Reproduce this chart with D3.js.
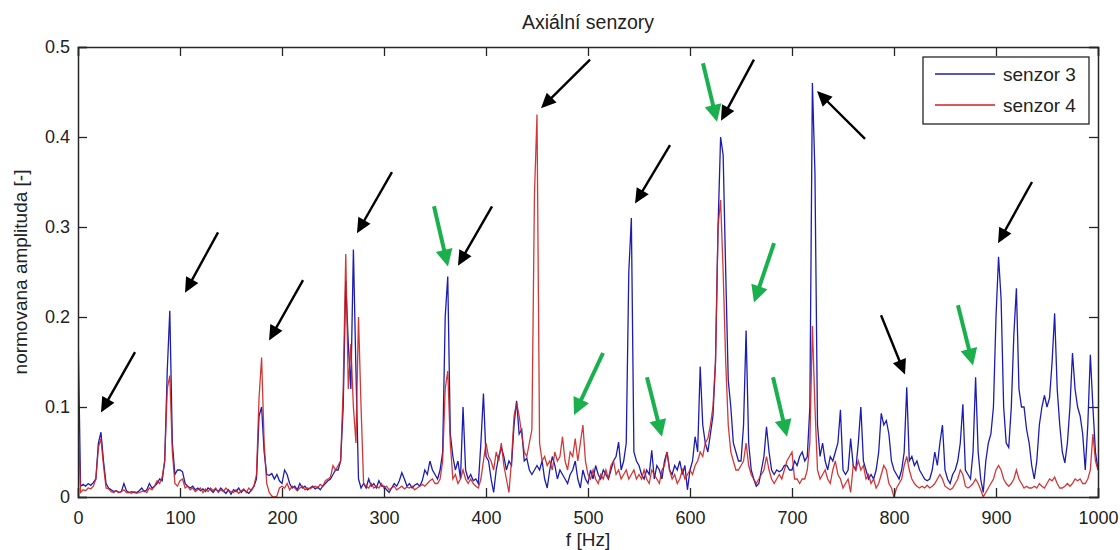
<!DOCTYPE html>
<html>
<head>
<meta charset="utf-8">
<script src="https://cdn.jsdelivr.net/npm/d3@7"></script>
<style>
  body { margin: 0; background: #fff; }
  text { font-family: "Liberation Sans", Arial, sans-serif; fill: #222; }
</style>
</head>
<body>
<div id="container"></div>
<script>
/* CONSTANTS AND GLOBALS */
const width = 1120,
  height = 550,
  margin = {top: 47, bottom: 53, left: 78, right: 22};

/* DATA */
// spectra sampled every 2.5 Hz, one row = 50 Hz
const freqStep = 2.5;
const xTicks = [0, 100, 200, 300, 400, 500, 600, 700, 800, 900, 1000];
const yTicks = [0, 0.1, 0.2, 0.3, 0.4, 0.5];
const seriesNames = ["senzor 3", "senzor 4"];

const senzor3 = [
  0.19, 0.012, 0.014, 0.012, 0.015, 0.013, 0.016, 0.02, 0.06, 0.072, 0.04, 0.015, 0.01, 0.008, 0.006, 0.007, 0.005, 0.006, 0.015, 0.007,
  0.005, 0.006, 0.005, 0.005, 0.007, 0.01, 0.006, 0.008, 0.015, 0.01, 0.012, 0.015, 0.02, 0.018, 0.04, 0.14, 0.207, 0.06, 0.025, 0.03,
  0.03, 0.028, 0.015, 0.012, 0.01, 0.012, 0.008, 0.01, 0.007, 0.009, 0.006, 0.01, 0.008, 0.005, 0.009, 0.006, 0.01, 0.007, 0.004, 0.008,
  0.003, 0.008, 0.006, 0.01, 0.005, 0.008, 0.006, 0.004, 0.008, 0.012, 0.02, 0.09, 0.1, 0.05, 0.025, 0.024, 0.026, 0.02, 0.025, 0.018,
  0.015, 0.03, 0.025, 0.015, 0.01, 0.012, 0.008, 0.015, 0.01, 0.012, 0.008, 0.01, 0.012, 0.009, 0.011, 0.008, 0.012, 0.015, 0.018, 0.02,
  0.025, 0.03, 0.03, 0.04, 0.1, 0.24, 0.17, 0.12, 0.275, 0.14, 0.02, 0.01, 0.015, 0.01, 0.02, 0.012, 0.015, 0.01, 0.018, 0.012,
  0.012, 0.008, 0.005, 0.01, 0.015, 0.012, 0.018, 0.027, 0.02, 0.012, 0.015, 0.01, 0.013, 0.015, 0.012, 0.018, 0.03, 0.025, 0.04, 0.03,
  0.025, 0.02, 0.03, 0.05, 0.2, 0.245, 0.07, 0.045, 0.03, 0.04, 0.02, 0.1, 0.03, 0.02, 0.025, 0.018, 0.02, 0.015, 0.06, 0.115,
  0.045, 0.04, 0.02, 0.005, 0.03, 0.045, 0.055, 0.045, 0.03, 0.04, 0.035, 0.08, 0.107, 0.07, 0.075, 0.04, 0.043, 0.03, 0.025, 0.03,
  0.035, 0.03, 0.04, 0.02, 0.01, 0.03, 0.045, 0.035, 0.02, 0.03, 0.025, 0.02, 0.015, 0.025, 0.03, 0.04, 0.02, 0.01, 0.03, 0.02,
  0.015, 0.03, 0.02, 0.035, 0.025, 0.02, 0.03, 0.025, 0.02, 0.03, 0.04, 0.045, 0.061, 0.03, 0.04, 0.06, 0.25, 0.31, 0.05, 0.04,
  0.035, 0.025, 0.02, 0.03, 0.025, 0.052, 0.02, 0.035, 0.03, 0.02, 0.04, 0.05, 0.03, 0.025, 0.035, 0.03, 0.04, 0.025, 0.035, 0.008,
  0.03, 0.04, 0.067, 0.05, 0.145, 0.08, 0.06, 0.05, 0.07, 0.09, 0.15, 0.3, 0.4, 0.38, 0.25, 0.13, 0.1, 0.06, 0.05, 0.04,
  0.04, 0.08, 0.185, 0.06, 0.03, 0.02, 0.012, 0.015, 0.03, 0.045, 0.078, 0.05, 0.03, 0.025, 0.03, 0.028, 0.03, 0.035, 0.035, 0.03,
  0.03, 0.04, 0.035, 0.045, 0.05, 0.04, 0.045, 0.1, 0.46, 0.36, 0.08, 0.045, 0.06, 0.04, 0.03, 0.045, 0.04, 0.05, 0.06, 0.097,
  0.03, 0.025, 0.03, 0.065, 0.035, 0.03, 0.06, 0.1, 0.04, 0.03, 0.02, 0.025, 0.02, 0.03, 0.05, 0.093, 0.08, 0.085, 0.07, 0.04,
  0.03, 0.025, 0.02, 0.03, 0.05, 0.122, 0.04, 0.045, 0.035, 0.04, 0.03, 0.025, 0.02, 0.018, 0.02, 0.03, 0.05, 0.035, 0.06, 0.08,
  0.03, 0.02, 0.015, 0.025, 0.03, 0.04, 0.06, 0.103, 0.03, 0.025, 0.02, 0.05, 0.133, 0.05, 0.02, 0.005, 0.04, 0.06, 0.07, 0.1,
  0.2, 0.267, 0.22, 0.1, 0.06, 0.055, 0.1, 0.18, 0.232, 0.12, 0.1, 0.1, 0.075, 0.06, 0.035, 0.02, 0.04, 0.08, 0.1, 0.113,
  0.1, 0.11, 0.15, 0.204, 0.12, 0.08, 0.05, 0.038, 0.06, 0.1, 0.16, 0.12, 0.1, 0.09, 0.07, 0.03, 0.08, 0.158, 0.1, 0.05,
  0.03
];

const senzor4 = [
  0.095, 0.005, 0.008, 0.007, 0.01, 0.009, 0.012, 0.02, 0.055, 0.065, 0.035, 0.01, 0.009, 0.006, 0.005, 0.007, 0.005, 0.006, 0.008, 0.005,
  0.005, 0.004, 0.006, 0.004, 0.005, 0.006, 0.007, 0.005, 0.01, 0.008, 0.012, 0.018, 0.015, 0.022, 0.04, 0.12, 0.135, 0.05, 0.015, 0.012,
  0.018, 0.02, 0.01, 0.012, 0.008, 0.01, 0.006, 0.008, 0.01, 0.005, 0.009, 0.006, 0.01, 0.007, 0.01, 0.005, 0.008, 0.006, 0.01, 0.007,
  0.006, 0.005, 0.008, 0.004, 0.007, 0.009, 0.005, 0.01, 0.007, 0.012, 0.025, 0.11, 0.155, 0.06, 0.015, 0.005, 0.001, 0.0, 0.001, 0.01,
  0.012, 0.01, 0.015, 0.008, 0.012, 0.01, 0.007, 0.01, 0.012, 0.008, 0.01, 0.009, 0.011, 0.012, 0.01, 0.014, 0.012, 0.018, 0.02, 0.022,
  0.035, 0.03, 0.035, 0.04, 0.12, 0.27, 0.12, 0.17, 0.1, 0.06, 0.2, 0.1, 0.015, 0.012, 0.01, 0.015, 0.01, 0.012, 0.01, 0.015,
  0.01, 0.012, 0.008, 0.01, 0.012, 0.008, 0.01, 0.012, 0.009, 0.011, 0.01, 0.012, 0.008, 0.01, 0.012, 0.014, 0.012, 0.015, 0.018, 0.02,
  0.015, 0.015, 0.02, 0.04, 0.12, 0.14, 0.06, 0.02, 0.025, 0.015, 0.02, 0.03, 0.02, 0.015, 0.02, 0.015, 0.012, 0.01, 0.02, 0.04,
  0.06, 0.045, 0.04, 0.03, 0.05, 0.04, 0.06, 0.035, 0.02, 0.005, 0.04, 0.09, 0.105, 0.09, 0.07, 0.05, 0.045, 0.06, 0.075, 0.335,
  0.425, 0.06, 0.04, 0.045, 0.035, 0.04, 0.03, 0.05, 0.04, 0.045, 0.067, 0.04, 0.03, 0.05, 0.045, 0.065, 0.04, 0.06, 0.08, 0.04,
  0.025, 0.02, 0.03, 0.02, 0.015, 0.025, 0.02, 0.03, 0.02, 0.035, 0.04, 0.025, 0.03, 0.02, 0.025, 0.03, 0.02, 0.025, 0.03, 0.02,
  0.025, 0.02, 0.03, 0.02, 0.015, 0.03, 0.025, 0.02, 0.015, 0.03, 0.035, 0.05, 0.03, 0.02, 0.025, 0.015, 0.02, 0.03, 0.02, 0.025,
  0.03, 0.025, 0.035, 0.04, 0.05, 0.045, 0.06, 0.065, 0.08, 0.1, 0.15, 0.3, 0.33, 0.25, 0.15, 0.08, 0.05, 0.04, 0.03, 0.03,
  0.035, 0.04, 0.06, 0.035, 0.025, 0.02, 0.015, 0.02, 0.025, 0.03, 0.045, 0.03, 0.02, 0.015, 0.02, 0.025, 0.02, 0.03, 0.04, 0.045,
  0.05, 0.02, 0.02, 0.015, 0.02, 0.02, 0.03, 0.06, 0.19, 0.1, 0.03, 0.02, 0.025, 0.03, 0.02, 0.015, 0.03, 0.04, 0.025, 0.02,
  0.01, 0.015, 0.02, 0.005, 0.035, 0.03, 0.04, 0.03, 0.035, 0.02, 0.025, 0.015, 0.02, 0.01, 0.015, 0.025, 0.035, 0.03, 0.015, 0.01,
  0.0, 0.01, 0.015, 0.02, 0.035, 0.045, 0.03, 0.02, 0.015, 0.012, 0.01, 0.012, 0.01, 0.013, 0.01, 0.012, 0.015, 0.02, 0.025, 0.02,
  0.012, 0.01, 0.008, 0.01, 0.015, 0.02, 0.03, 0.025, 0.012, 0.01, 0.012, 0.015, 0.02, 0.015, 0.008, 0.0, 0.005, 0.01, 0.015, 0.02,
  0.03, 0.035, 0.03, 0.02, 0.015, 0.012, 0.015, 0.02, 0.03, 0.02, 0.015, 0.01, 0.012, 0.01, 0.01, 0.012, 0.01, 0.015, 0.012, 0.01,
  0.015, 0.02, 0.018, 0.022, 0.015, 0.01, 0.01, 0.012, 0.015, 0.012, 0.015, 0.02, 0.018, 0.02, 0.015, 0.015, 0.02, 0.03, 0.07, 0.04,
  0.03
];

// annotation arrows [tail f, tail amp, tip f, tip amp]
const blackArrows = [
  [55.9, 0.161, 22.5, 0.094],
  [137.3, 0.294, 104.9, 0.227],
  [220.6, 0.241, 187.3, 0.174],
  [307.8, 0.361, 273.5, 0.293],
  [405.9, 0.323, 372.5, 0.257],
  [502, 0.486, 453.9, 0.432],
  [580.4, 0.391, 546.1, 0.326],
  [662.7, 0.486, 630.4, 0.418],
  [771.6, 0.398, 724.5, 0.451],
  [787.3, 0.202, 810.8, 0.136],
  [935.3, 0.35, 902, 0.282]
];
const greenArrows = [
  [349, 0.323, 362.7, 0.256],
  [514.7, 0.16, 486.3, 0.091],
  [557.8, 0.133, 572.5, 0.067],
  [612.7, 0.482, 626.5, 0.417],
  [682.4, 0.282, 662.7, 0.216],
  [681.4, 0.133, 695.1, 0.067],
  [862.7, 0.213, 877.5, 0.146]
];

const colors = ["#1c1cb0", "#cc2222"];

/* SCALES */
const xScale = d3.scaleLinear()
  .domain([0, 1000])
  .range([margin.left, width - margin.right]);

const yScale = d3.scaleLinear()
  .domain([0, 0.5])
  .range([height - margin.bottom, margin.top]);

const svg = d3.select("#container").append("svg")
  .attr("width", width)
  .attr("height", height);

svg.append("clipPath").attr("id", "plotClip")
  .append("rect")
  .attr("x", margin.left).attr("y", margin.top)
  .attr("width", width - margin.left - margin.right)
  .attr("height", height - margin.top - margin.bottom);

/* LINES */
const lineGen = d3.line()
  .x((d, i) => xScale(i * freqStep))
  .y(d => yScale(d));

svg.append("g")
  .attr("clip-path", "url(#plotClip)")
  .selectAll("path.line")
  .data([senzor3, senzor4])
  .join("path")
    .attr("class", "line")
    .attr("fill", "none")
    .attr("stroke", (d, i) => colors[i])
    .attr("stroke-width", 1.3)
    .attr("stroke-opacity", (d, i) => i === 1 ? 0.9 : 1)
    .attr("d", d => lineGen(d));

/* AXES (matlab style box with inward ticks) */
const tickLen = 9;
const axisColor = "#262626";

const xAxis = d3.axisBottom(xScale).tickValues(xTicks).tickSize(-tickLen).tickPadding(14)
  .tickFormat(d3.format("d"));
const yAxis = d3.axisLeft(yScale).tickValues(yTicks).tickSize(-tickLen).tickPadding(8)
  .tickFormat(d => d === 0 ? "0" : d3.format(".1f")(d));

svg.append("g")
  .attr("transform", `translate(0,${height - margin.bottom})`)
  .call(xAxis)
  .call(g => g.selectAll("text").attr("font-size", 18).attr("fill", "#222"));

svg.append("g")
  .attr("transform", `translate(${margin.left},0)`)
  .call(yAxis)
  .call(g => g.selectAll("text").attr("font-size", 18).attr("fill", "#222"));

svg.append("g")
  .attr("transform", `translate(0,${margin.top})`)
  .call(d3.axisTop(xScale).tickValues(xTicks).tickSize(-tickLen).tickFormat(""));

svg.append("g")
  .attr("transform", `translate(${width - margin.right},0)`)
  .call(d3.axisRight(yScale).tickValues(yTicks).tickSize(-tickLen).tickFormat(""));

svg.selectAll(".domain").attr("stroke", axisColor).attr("stroke-width", 1.5);
svg.selectAll(".tick line").attr("stroke", axisColor).attr("stroke-width", 1.3);

/* LABELS */
svg.append("text")
  .attr("x", (margin.left + width - margin.right) / 2)
  .attr("y", 29)
  .attr("text-anchor", "middle")
  .attr("font-size", 19.5)
  .text("Axiální senzory");

svg.append("text")
  .attr("x", (margin.left + width - margin.right) / 2)
  .attr("y", 546)
  .attr("text-anchor", "middle")
  .attr("font-size", 19)
  .text("f [Hz]");

svg.append("text")
  .attr("transform", `translate(27,${(margin.top + height - margin.bottom) / 2}) rotate(-90)`)
  .attr("text-anchor", "middle")
  .attr("font-size", 19)
  .text("normovana amplituda [-]");

/* ARROWS */
function drawArrows(list, color, lw, headLen, headHalf) {
  const g = svg.append("g");
  list.forEach(a => {
    const x0 = xScale(a[0]), y0 = yScale(a[1]);
    const x1 = xScale(a[2]), y1 = yScale(a[3]);
    const ang = Math.atan2(y1 - y0, x1 - x0);
    const ux = Math.cos(ang), uy = Math.sin(ang);
    const bx = x1 - ux * headLen, by = y1 - uy * headLen;
    g.append("line")
      .attr("x1", x0).attr("y1", y0)
      .attr("x2", bx + ux * 2).attr("y2", by + uy * 2)
      .attr("stroke", color)
      .attr("stroke-width", lw);
    g.append("path")
      .attr("d", `M${x1},${y1}L${bx - uy * headHalf},${by + ux * headHalf}L${bx + uy * headHalf},${by - ux * headHalf}Z`)
      .attr("fill", color);
  });
}
drawArrows(blackArrows, "#000", 2.4, 15, 7);
drawArrows(greenArrows, "#1bb04e", 4, 17, 8.5);

/* LEGEND */
const legend = svg.append("g");
legend.append("rect")
  .attr("x", 923).attr("y", 57)
  .attr("width", 166).attr("height", 67)
  .attr("fill", "#fff")
  .attr("stroke", axisColor)
  .attr("stroke-width", 1.3);

legend.selectAll("line")
  .data(seriesNames)
  .join("line")
    .attr("x1", 935).attr("x2", 995)
    .attr("y1", (d, i) => 74 + i * 31)
    .attr("y2", (d, i) => 74 + i * 31)
    .attr("stroke", (d, i) => colors[i])
    .attr("stroke-width", 1.3);

legend.selectAll("text")
  .data(seriesNames)
  .join("text")
    .attr("x", 1003)
    .attr("y", (d, i) => 74 + i * 31)
    .attr("dy", "0.35em")
    .attr("font-size", 19)
    .text(d => d);
</script>
</body>
</html>
